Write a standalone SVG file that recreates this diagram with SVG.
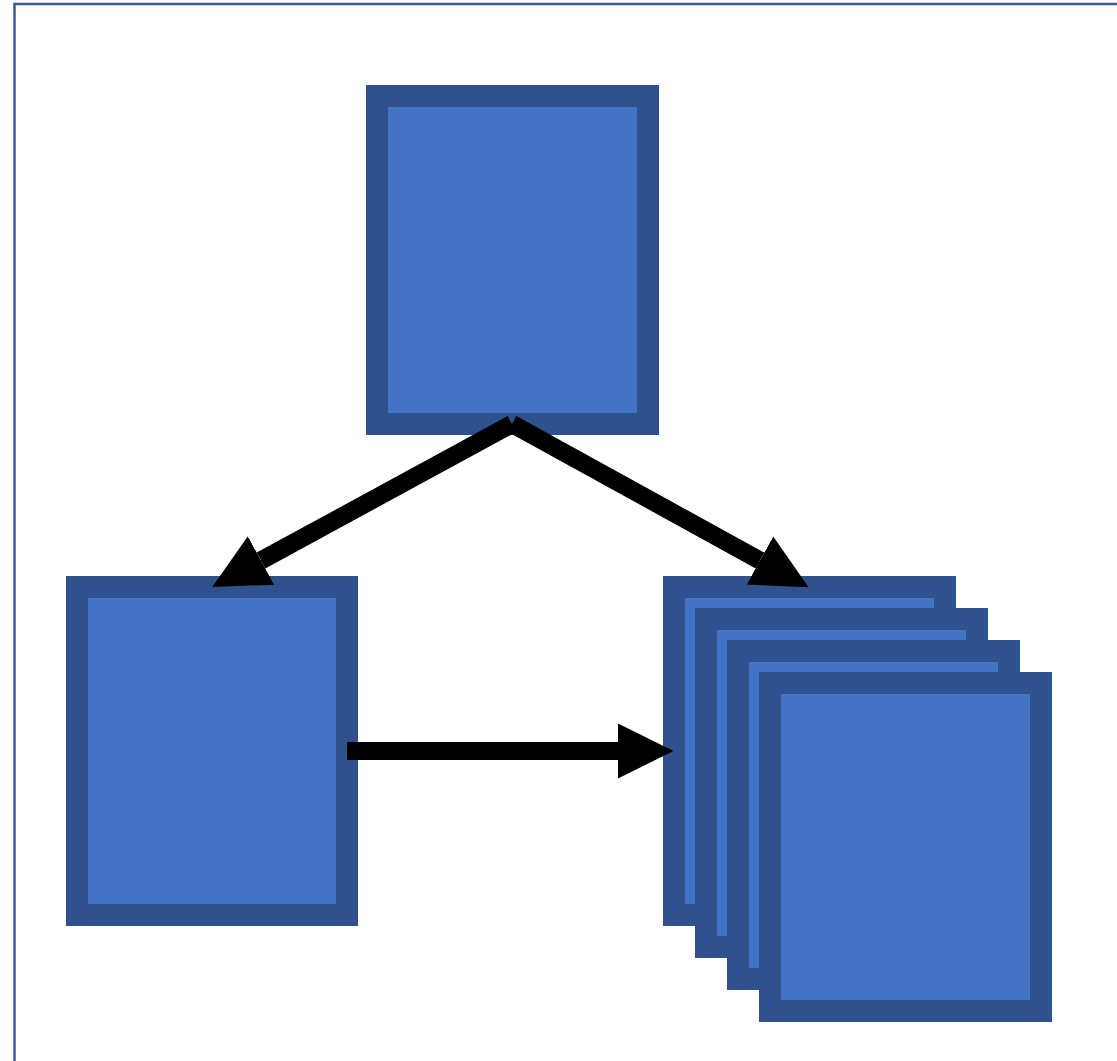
<svg xmlns="http://www.w3.org/2000/svg" width="1117" height="1061" viewBox="0 0 1117 1061">
  <style>
    .node { fill: #4472C4; stroke: #2F528F; stroke-width: 22; }
    .edge { stroke: #000000; stroke-width: 18; fill: none; }
    .frame { fill: none; stroke: #3B5A98; stroke-width: 2.5; }
  </style>
  <defs>
    <marker id="head" markerUnits="userSpaceOnUse" markerWidth="60" markerHeight="60" viewBox="0 -30 60 60" refX="0" refY="0" orient="auto">
      <path d="M0,-27.5 L55.5,0 L0,27.5 Z" fill="#000000"/>
    </marker>
  </defs>

  <rect width="1117" height="1061" fill="#FFFFFF"/>
  <!-- page frame, continues past the right and bottom edges -->
  <rect class="frame" x="14.5" y="4" width="1200" height="1200"/>

  <!-- top node -->
  <g id="node-top">
    <rect class="node" x="377" y="96" width="271" height="328"/>
  </g>

  <!-- lower left node -->
  <g id="node-left">
    <rect class="node" x="77" y="587" width="270" height="328"/>
  </g>

  <!-- stacked node group on the lower right -->
  <g id="node-stack">
    <rect class="node" x="674" y="587" width="271" height="328"/>
    <rect class="node" x="706" y="619" width="271" height="328"/>
    <rect class="node" x="738" y="651" width="271" height="328"/>
    <rect class="node" x="770" y="683" width="271" height="328"/>
  </g>

  <!-- connectors -->
  <g id="connectors">
    <line class="edge" x1="512" y1="424" x2="261" y2="560.5" marker-end="url(#head)"/>
    <line class="edge" x1="512" y1="424" x2="760" y2="560.5" marker-end="url(#head)"/>
    <line class="edge" x1="347" y1="751" x2="618" y2="751" marker-end="url(#head)"/>
  </g>
</svg>
